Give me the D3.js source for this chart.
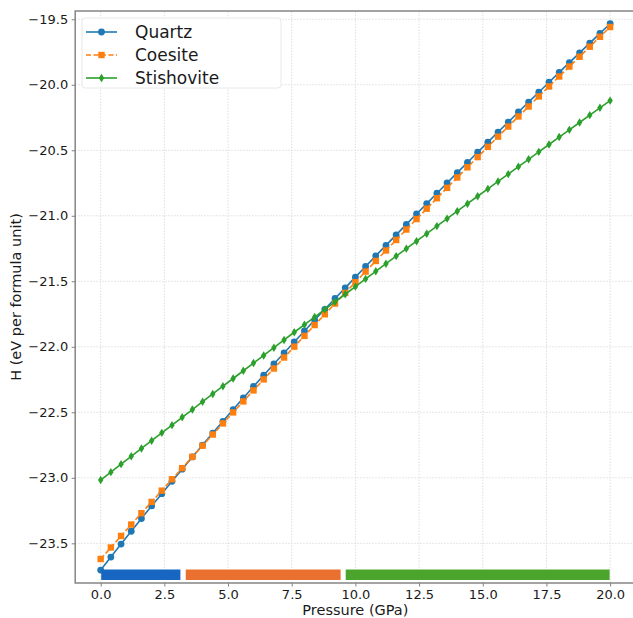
<!DOCTYPE html>
<html lang="en">
<head>
    <meta charset="UTF-8">
    <title>Enthalpy vs pressure</title>
    <script src="https://cdn.jsdelivr.net/npm/d3@7"></script>
    <style>
        body { margin: 0; background: white; }
        svg { display: block; }
        text { font-family: "DejaVu Sans", sans-serif; fill: #1a1a1a; }
        .grid line { stroke: #dedede; stroke-width: 1; stroke-dasharray: 1.5,1.5; }
        .axis path, .axis line { stroke: #808080; }
        .axis text { font-size: 13px; }
    </style>
</head>
<body>
<script>
    // pressures (GPa), one point every 0.4 GPa
    const pressure = [0.0,0.4,0.8,1.2,1.6,2.0,2.4,2.8,3.2,3.6,4.0,4.4,4.8,5.2,5.6,6.0,6.4,6.8,7.2,7.6,
        8.0,8.4,8.8,9.2,9.6,10.0,10.4,10.8,11.2,11.6,12.0,12.4,12.8,13.2,13.6,14.0,14.4,14.8,15.2,15.6,
        16.0,16.4,16.8,17.2,17.6,18.0,18.4,18.8,19.2,19.6,20.0];

    // enthalpy (eV per formula unit)
    const quartz = [-23.704,-23.605,-23.506,-23.408,-23.311,-23.215,-23.121,-23.027,-22.934,-22.841,
        -22.750,-22.659,-22.569,-22.479,-22.391,-22.303,-22.217,-22.131,-22.047,-21.963,
        -21.879,-21.796,-21.714,-21.631,-21.550,-21.468,-21.387,-21.306,-21.226,-21.146,
        -21.066,-20.986,-20.907,-20.828,-20.750,-20.671,-20.593,-20.515,-20.438,-20.361,
        -20.285,-20.208,-20.132,-20.057,-19.981,-19.906,-19.831,-19.757,-19.682,-19.608,-19.534];
    const coesite = [-23.620,-23.532,-23.444,-23.357,-23.270,-23.184,-23.098,-23.011,-22.926,-22.840,
        -22.755,-22.670,-22.585,-22.501,-22.417,-22.333,-22.249,-22.166,-22.082,-21.999,
        -21.917,-21.834,-21.752,-21.670,-21.589,-21.507,-21.426,-21.345,-21.265,-21.185,
        -21.105,-21.025,-20.946,-20.866,-20.787,-20.708,-20.630,-20.552,-20.474,-20.396,
        -20.319,-20.242,-20.166,-20.089,-20.013,-19.937,-19.861,-19.786,-19.710,-19.634,-19.559];
    const stishovite = [-23.017,-22.957,-22.896,-22.836,-22.776,-22.717,-22.657,-22.598,-22.538,-22.479,
        -22.419,-22.360,-22.301,-22.242,-22.183,-22.124,-22.066,-22.007,-21.948,-21.889,
        -21.831,-21.773,-21.715,-21.657,-21.599,-21.541,-21.482,-21.424,-21.366,-21.308,
        -21.251,-21.194,-21.137,-21.079,-21.022,-20.965,-20.908,-20.851,-20.795,-20.738,
        -20.682,-20.625,-20.569,-20.512,-20.456,-20.399,-20.344,-20.288,-20.232,-20.176,-20.121];

    const seriesNames = ["Quartz", "Coesite", "Stishovite"];

    // stable phase ranges drawn as bars along the bottom
    const phaseStart = [0.02, 3.34, 9.62];
    const phaseEnd = [3.13, 9.42, 19.98];
    const barTop = -23.700;
    const barBottom = -23.780;

    const xTicks = [0, 2.5, 5, 7.5, 10, 12.5, 15, 17.5, 20];
    const yTicks = [-23.5, -23.0, -22.5, -22.0, -21.5, -21.0, -20.5, -20.0, -19.5];

    const width = 633, height = 618;
    const lineColors = ["#1f77b4", "#ff7f0e", "#2ca02c"];
    const barColors = ["#1767c2", "#e9702f", "#4ba52c"];

    const svg = d3.select("body").append("svg")
        .attr("width", width).attr("height", height);

    const x = d3.scaleLinear().domain([-1, 21]).range([75.2, 635.6]);
    const y = d3.scaleLinear().domain([-23.803, -19.437]).range([583, 11]);

    // grid
    const grid = svg.append("g").attr("class", "grid");
    grid.selectAll(".gx").data(xTicks).enter().append("line")
        .attr("x1", d => x(d)).attr("x2", d => x(d))
        .attr("y1", y.range()[0]).attr("y2", y.range()[1]);
    grid.selectAll(".gy").data(yTicks).enter().append("line")
        .attr("y1", d => y(d)).attr("y2", d => y(d))
        .attr("x1", x.range()[0]).attr("x2", x.range()[1]);

    const allSeries = [quartz, coesite, stishovite].map((vals, i) => ({
        name: seriesNames[i],
        color: lineColors[i],
        points: pressure.map((p, j) => ({ p: p, h: vals[j] }))
    }));

    const line = d3.line().x(d => x(d.p)).y(d => y(d.h));

    function drawMarker(g, idx, cx, cy, color) {
        if (idx === 0) {
            g.append("circle").attr("cx", cx).attr("cy", cy).attr("r", 3.4).attr("fill", color);
        } else if (idx === 1) {
            g.append("rect").attr("x", cx - 3.2).attr("y", cy - 3.2)
                .attr("width", 6.4).attr("height", 6.4).attr("fill", color);
        } else {
            g.append("path")
                .attr("d", `M${cx},${cy - 4.2}L${cx + 2.7},${cy}L${cx},${cy + 4.2}L${cx - 2.7},${cy}Z`)
                .attr("fill", color);
        }
    }

    const plot = svg.append("g");
    allSeries.forEach((s, i) => {
        plot.append("path")
            .attr("d", line(s.points))
            .attr("fill", "none")
            .attr("stroke", s.color)
            .attr("stroke-width", 1.6)
            .attr("stroke-dasharray", i === 1 ? "5,2.5" : null);
        const mg = plot.append("g");
        s.points.forEach(d => drawMarker(mg, i, x(d.p), y(d.h), s.color));
    });

    // phase bars
    svg.append("g").selectAll("rect")
        .data(phaseStart.map((s, i) => ({ s: s, e: phaseEnd[i], c: barColors[i] })))
        .enter().append("rect")
        .attr("x", d => x(d.s))
        .attr("width", d => x(d.e) - x(d.s))
        .attr("y", y(barTop))
        .attr("height", y(barBottom) - y(barTop))
        .attr("fill", d => d.c);

    // axes
    const fmt = d3.format(".1f");
    svg.append("g").attr("class", "axis")
        .attr("transform", `translate(0,${y.range()[0]})`)
        .call(d3.axisBottom(x).tickValues(xTicks).tickFormat(fmt).tickSizeOuter(0).tickSize(3.5).tickPadding(3.5));
    svg.append("g").attr("class", "axis")
        .attr("transform", `translate(${x.range()[0]},0)`)
        .call(d3.axisLeft(y).tickValues(yTicks).tickFormat(fmt).tickSizeOuter(0).tickSize(3.5).tickPadding(3.5));
    svg.selectAll(".axis path").remove();

    // frame
    svg.append("rect")
        .attr("x", x.range()[0]).attr("y", y.range()[1])
        .attr("width", x.range()[1] - x.range()[0])
        .attr("height", y.range()[0] - y.range()[1])
        .attr("fill", "none").attr("stroke", "#858585").attr("stroke-width", 1.5);

    // axis labels
    svg.append("text")
        .attr("x", (x(-1) + x(21)) / 2).attr("y", 615)
        .attr("text-anchor", "middle").style("font-size", "14.5px")
        .text("Pressure (GPa)");
    svg.append("text")
        .attr("transform", `translate(21,${(y.range()[0] + y.range()[1]) / 2}) rotate(-90)`)
        .attr("text-anchor", "middle").style("font-size", "14.5px")
        .text("H (eV per formula unit)");

    // legend
    const legend = svg.append("g");
    legend.append("rect")
        .attr("x", 82).attr("y", 18).attr("width", 199).attr("height", 70)
        .attr("rx", 3).attr("fill", "white").attr("fill-opacity", 0.9)
        .attr("stroke", "#e2e2e2").attr("stroke-width", 0.8);
    allSeries.forEach((s, i) => {
        const ry = 32 + i * 23;
        legend.append("line")
            .attr("x1", 86).attr("x2", 117).attr("y1", ry).attr("y2", ry)
            .attr("stroke", s.color).attr("stroke-width", 1.6)
            .attr("stroke-dasharray", i === 1 ? "5,2.5" : null);
        drawMarker(legend, i, 101.5, ry, s.color);
        legend.append("text")
            .attr("x", 135).attr("y", ry + 6)
            .style("font-size", "17px")
            .text(s.name);
    });
</script>
</body>
</html>
